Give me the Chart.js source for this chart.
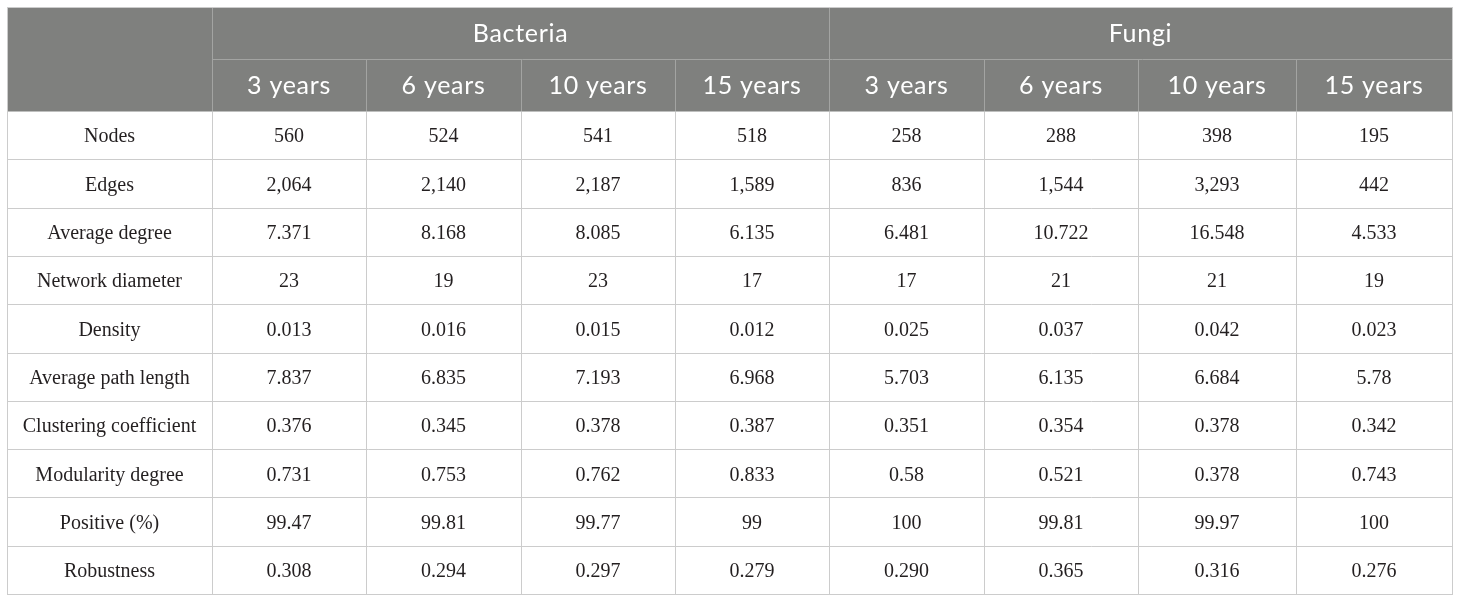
<!DOCTYPE html>
<html lang="en">
<head>
<meta charset="UTF-8">
<title>Network properties</title>
<script src="https://cdn.jsdelivr.net/npm/chart.js@4.4.0/dist/chart.umd.min.js"></script>
<style>
   html, body { margin: 0; padding: 0; background: #fff; }
   #wrap { width: 1460px; height: 602px; }
</style>
</head>
<body>
<div id="wrap"><canvas id="tableChart"></canvas></div>
<script>
   // table content
   var groups = ['Bacteria', 'Fungi'];
   var years = ['3 years', '6 years', '10 years', '15 years'];
   var metrics = ['Nodes', 'Edges', 'Average degree', 'Network diameter', 'Density',
      'Average path length', 'Clustering coefficient', 'Modularity degree', 'Positive (%)', 'Robustness'];

   var bac3 = ['560', '2,064', '7.371', '23', '0.013', '7.837', '0.376', '0.731', '99.47', '0.308'];
   var bac6 = ['524', '2,140', '8.168', '19', '0.016', '6.835', '0.345', '0.753', '99.81', '0.294'];
   var bac10 = ['541', '2,187', '8.085', '23', '0.015', '7.193', '0.378', '0.762', '99.77', '0.297'];
   var bac15 = ['518', '1,589', '6.135', '17', '0.012', '6.968', '0.387', '0.833', '99', '0.279'];
   var fun3 = ['258', '836', '6.481', '17', '0.025', '5.703', '0.351', '0.58', '100', '0.290'];
   var fun6 = ['288', '1,544', '10.722', '21', '0.037', '6.135', '0.354', '0.521', '99.81', '0.365'];
   var fun10 = ['398', '3,293', '16.548', '21', '0.042', '6.684', '0.378', '0.378', '99.97', '0.316'];
   var fun15 = ['195', '442', '4.533', '19', '0.023', '5.78', '0.342', '0.743', '100', '0.276'];

   var columns = [bac3, bac6, bac10, bac15, fun3, fun6, fun10, fun15];

   // layout (scale units = px inside the table area)
   var colEdges = [0, 205, 359, 514, 668, 822, 977, 1131, 1289, 1445];
   var headH = 52;
   var rowH = 48.3;
   var tableH = headH * 2 + rowH * metrics.length;

   var headBg = '#7f807e';
   var gridColor = '#cccccc';
   var headLine = '#a3a4a2';

   var tablePlugin = {
      id: 'tableDraw',
      afterDraw: function (chart) {
         var c = chart.ctx;
         var x = chart.scales.x, y = chart.scales.y;
         var px = function (v) { return Math.round(x.getPixelForValue(v)) + 0.5; };
         var py = function (v) { return Math.round(y.getPixelForValue(v)) + 0.5; };
         var xL = px(0), xR = px(colEdges[colEdges.length - 1]);
         var yT = py(0), yH = py(headH * 2), yB = py(tableH);
         var mid = colEdges[5];
         c.save();

         // header background
         c.fillStyle = headBg;
         c.fillRect(xL, yT, xR - xL, yH - yT);

         // header lines
         c.lineWidth = 1;
         c.strokeStyle = headLine;
         c.beginPath();
         c.moveTo(px(colEdges[1]), py(headH)); c.lineTo(xR, py(headH));
         c.moveTo(px(colEdges[1]), yT); c.lineTo(px(colEdges[1]), yH);
         c.moveTo(px(mid), yT); c.lineTo(px(mid), yH);
         for (var i = 2; i < colEdges.length - 1; i++) {
            if (i === 5) continue;
            c.moveTo(px(colEdges[i]), py(headH)); c.lineTo(px(colEdges[i]), yH);
         }
         c.stroke();

         // body grid
         c.strokeStyle = gridColor;
         c.beginPath();
         for (var r = 1; r <= metrics.length; r++) {
            var yy = py(headH * 2 + r * rowH);
            c.moveTo(xL, yy); c.lineTo(xR, yy);
         }
         for (var k = 1; k < colEdges.length - 1; k++) {
            c.moveTo(px(colEdges[k]), yH); c.lineTo(px(colEdges[k]), yB);
         }
         c.stroke();
         // outer border
         c.strokeRect(xL, yT, xR - xL, yB - yT);

         // header text
         c.fillStyle = '#ffffff';
         c.textAlign = 'center';
         c.textBaseline = 'middle';
         c.font = '25px Lato';
         c.letterSpacing = '0.7px';
         groups.forEach(function (g, gi) {
            var cx = (x.getPixelForValue(colEdges[1 + gi * 4]) + x.getPixelForValue(colEdges[5 + gi * 4])) / 2;
            c.fillText(g, cx, y.getPixelForValue(headH / 2) + 1);
         });
         for (var j = 0; j < 8; j++) {
            var cx2 = (x.getPixelForValue(colEdges[j + 1]) + x.getPixelForValue(colEdges[j + 2])) / 2;
            c.fillText(years[j % 4], cx2, y.getPixelForValue(headH * 1.5) + 1);
         }

         // body text
         c.letterSpacing = '0px';
         c.fillStyle = '#231f20';
         c.font = '20px "Liberation Serif"';
         metrics.forEach(function (m, ri) {
            var cy = y.getPixelForValue(headH * 2 + (ri + 0.5) * rowH) + 2;
            c.fillText(m, (x.getPixelForValue(colEdges[0]) + x.getPixelForValue(colEdges[1])) / 2, cy);
            columns.forEach(function (col, ci) {
               var cx3 = (x.getPixelForValue(colEdges[ci + 1]) + x.getPixelForValue(colEdges[ci + 2])) / 2;
               c.fillText(col[ri], cx3, cy);
            });
         });
         c.restore();
      }
   };

   new Chart(document.getElementById('tableChart'), {
      type: 'scatter',
      data: { datasets: [{ data: [] }] },
      plugins: [tablePlugin],
      options: {
         responsive: true,
         maintainAspectRatio: false,
         animation: false,
         layout: { padding: { left: 7, top: 7, right: 8, bottom: 8 } },
         plugins: { legend: { display: false }, tooltip: { enabled: false } },
         scales: {
            x: { type: 'linear', min: 0, max: colEdges[colEdges.length - 1], display: false },
            y: { type: 'linear', min: 0, max: tableH, reverse: true, display: false }
         }
      }
   });
</script>
</body>
</html>
